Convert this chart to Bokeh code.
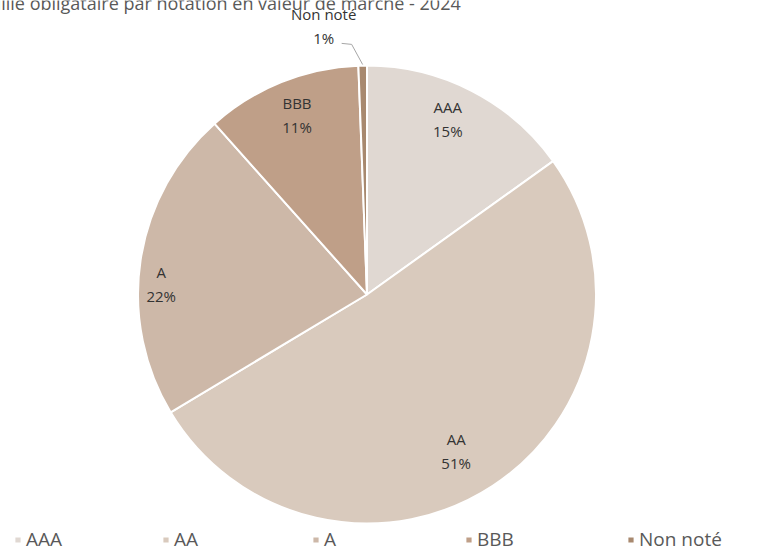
import math
from bokeh.plotting import figure
from bokeh.models import Range1d, Label, Legend, LegendItem, ColumnDataSource
from bokeh.core.properties import value
from bokeh.embed import file_html
from bokeh.resources import INLINE

# ---- data ----
categories = ["AAA", "AA", "A", "BBB", "Non noté"]
shares = [15.1, 51.3, 22.0, 11.0, 0.6]
pct_labels = ["15%", "51%", "22%", "11%", "1%"]
colors = ["#E0D8D2", "#D9CABD", "#CDB8A8", "#BF9F88", "#A8896F"]
title_text = "Portefeuille obligataire par notation en valeur de marché - 2024"

# ---- layout / style ----
W, H = 759, 556
CX, CY, R = 366.5, 556 - 294, 229
label_rfrac = [0.842, 0.788, 0.90, 0.843, 1.186]
label_nudge_deg = [-2.4, 3.7, -5.6, 0.7, -8.1]
legend_x = [13, 161, 311, 464, 626]
legend_y = 4

total = sum(shares)
starts, ends, mids = [], [], []
cum = 0.0
for s in shares:
    a0 = math.pi / 2 - 2 * math.pi * cum / total
    cum += s
    a1 = math.pi / 2 - 2 * math.pi * cum / total
    starts.append(a0)
    ends.append(a1)
    mids.append((a0 + a1) / 2)

lx, ly = [], []
for m, f, n in zip(mids, label_rfrac, label_nudge_deg):
    a = m - math.radians(n)
    lx.append(CX + R * f * math.cos(a))
    ly.append(CY + R * f * math.sin(a))

src = ColumnDataSource(dict(cat=categories, share=shares, pct=pct_labels,
                            color=colors, start=starts, end=ends,
                            lx=lx, ly=ly, x=[CX] * 5, y=[CY] * 5))

p = figure(width=W, height=H, output_backend="svg", toolbar_location=None,
           x_range=Range1d(0, W), y_range=Range1d(0, H),
           min_border=0, outline_line_color=None)
p.xaxis.visible = False
p.yaxis.visible = False
p.grid.visible = False

wedges = p.wedge(x="x", y="y", radius=R, start_angle="start", end_angle="end",
                 direction="clock", fill_color="color", line_color="white",
                 line_width=2, source=src)

p.text(x="lx", y="ly", text="cat", source=src, text_align="center",
       text_baseline="middle", y_offset=-12, text_font=value("Open Sans"),
       text_font_size="15px", text_color="#333333")
p.text(x="lx", y="ly", text="pct", source=src, text_align="center",
       text_baseline="middle", y_offset=12, text_font=value("Open Sans"),
       text_font_size="15px", text_color="#333333")

# leader line for the small slice
i = 4
ex = CX + (R + 1) * math.cos(mids[i])
ey = CY + (R + 1) * math.sin(mids[i])
p.line(x=[lx[i] + 18, lx[i] + 28, ex], y=[ly[i] - 17, ly[i] - 18, ey],
       line_color="#A6A6A6", line_width=1)

title = Label(x=-72, y=H - 2, text=title_text, text_font="Open Sans",
              text_font_size="18px", text_color="#595959",
              text_baseline="alphabetic")
p.add_layout(title)

for k, cat in enumerate(categories):
    leg = Legend(items=[LegendItem(label=cat, renderers=[wedges], index=k)],
                 location=(legend_x[k], legend_y), orientation="horizontal",
                 padding=0, margin=0, spacing=0, border_line_color=None,
                 background_fill_alpha=0, glyph_width=9, glyph_height=9,
                 label_standoff=4, label_text_font="Open Sans",
                 label_text_font_size="19px", label_text_color="#595959")
    p.add_layout(leg)

open("out.html", "w").write(file_html(p, INLINE))
